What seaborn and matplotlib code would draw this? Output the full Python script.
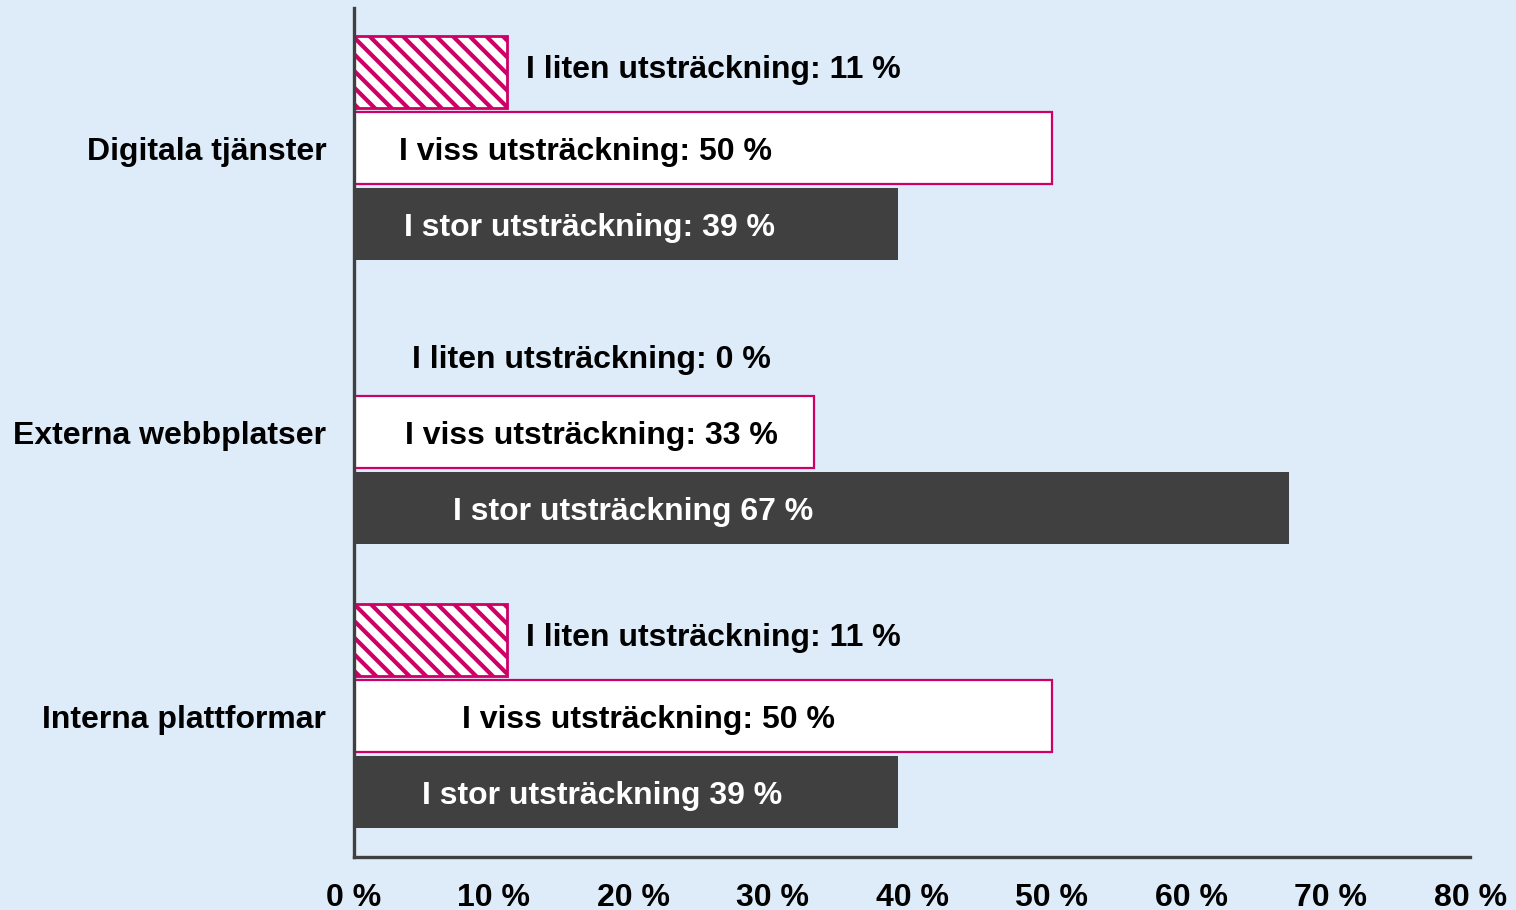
import matplotlib
matplotlib.use("Agg")
import matplotlib.pyplot as plt
import seaborn as sns
import pandas as pd

categories = ["Digitala tjänster", "Externa webbplatser", "Interna plattformar"]
levels = ["I liten utsträckning", "I viss utsträckning", "I stor utsträckning"]
values = {
    "I liten utsträckning": [11, 0, 11],
    "I viss utsträckning": [50, 33, 50],
    "I stor utsträckning": [39, 67, 39],
}
bar_labels = {
    "I liten utsträckning": ["I liten utsträckning: 11 %", "I liten utsträckning: 0 %", "I liten utsträckning: 11 %"],
    "I viss utsträckning": ["I viss utsträckning: 50 %", "I viss utsträckning: 33 %", "I viss utsträckning: 50 %"],
    "I stor utsträckning": ["I stor utsträckning: 39 %", "I stor utsträckning 67 %", "I stor utsträckning 39 %"],
}
# label centre positions (x, in %)
label_x = {
    "I liten utsträckning": [None, 17.0, None],
    "I viss utsträckning": [16.6, 17.0, 21.1],
    "I stor utsträckning": [16.9, 20.0, 17.8],
}
xticks = [0, 10, 20, 30, 40, 50, 60, 70, 80]
xticklabels = ["0 %", "10 %", "20 %", "30 %", "40 %", "50 %", "60 %", "70 %", "80 %"]

BG = "#DEEBF8"
MAG = "#CC0066"
DARK = "#404040"

sns.set_style("white")
plt.rcParams["font.family"] = ["Liberation Sans", "DejaVu Sans"]
plt.rcParams["hatch.linewidth"] = 3.0
plt.rcParams["hatch.color"] = MAG

rows = []
for lev in levels:
    for cat, v in zip(categories, values[lev]):
        rows.append({"cat": cat, "level": lev, "value": v})
df = pd.DataFrame(rows)

fig = plt.figure(figsize=(15.16, 9.10), dpi=100, facecolor=BG)
ax = fig.add_axes([0.2335, 0.0582, 0.9697 - 0.2335, 0.991 - 0.0582])
ax.set_facecolor(BG)

sns.barplot(data=df, y="cat", x="value", hue="level", order=categories,
            hue_order=levels, orient="h", width=0.804, gap=0.052,
            palette=["white", "white", DARK], legend=False, ax=ax, zorder=2)

for i, lev in enumerate(levels):
    cont = ax.containers[i]
    for j, p in enumerate(cont.patches):
        if lev == "I liten utsträckning":
            p.set_facecolor("white")
            p.set_edgecolor(MAG)
            p.set_hatch("\\\\")
            p.set_linewidth(2.0 if values[lev][j] > 0 else 0)
        elif lev == "I viss utsträckning":
            p.set_facecolor("white")
            p.set_edgecolor(MAG)
            p.set_linewidth(1.6)
        else:
            p.set_facecolor(DARK)
            p.set_edgecolor(DARK)
            p.set_linewidth(0)
        yc = p.get_y() + p.get_height() / 2 + 0.014
        txt = bar_labels[lev][j]
        color = "white" if lev == "I stor utsträckning" else "black"
        if label_x[lev][j] is None:
            ax.text(p.get_width() + 1.3, yc - 0.02, txt, ha="left", va="center",
                    fontsize=23, fontweight="bold", color=color, zorder=4)
        else:
            ax.text(label_x[lev][j], yc, txt, ha="center", va="center",
                    fontsize=23, fontweight="bold", color=color, zorder=4)

ax.set_xlim(0, 80)
ax.set_ylim(2.496, -0.493)
ax.set_xticks(xticks)
ax.set_xticklabels(xticklabels, fontsize=23, fontweight="bold")
ax.tick_params(axis="x", length=0, pad=19, labelcolor="black")
ax.tick_params(axis="y", length=0, pad=20, labelsize=23, labelcolor="black")
for lab in ax.get_yticklabels():
    lab.set_fontweight("bold")
ax.set_xlabel("")
ax.set_ylabel("")
for s in ["top", "right"]:
    ax.spines[s].set_visible(False)
for s in ["left", "bottom"]:
    ax.spines[s].set_color(DARK)
    ax.spines[s].set_linewidth(2.4)
    ax.spines[s].set_zorder(5)

fig.savefig("out.png", dpi=100, facecolor=BG)
